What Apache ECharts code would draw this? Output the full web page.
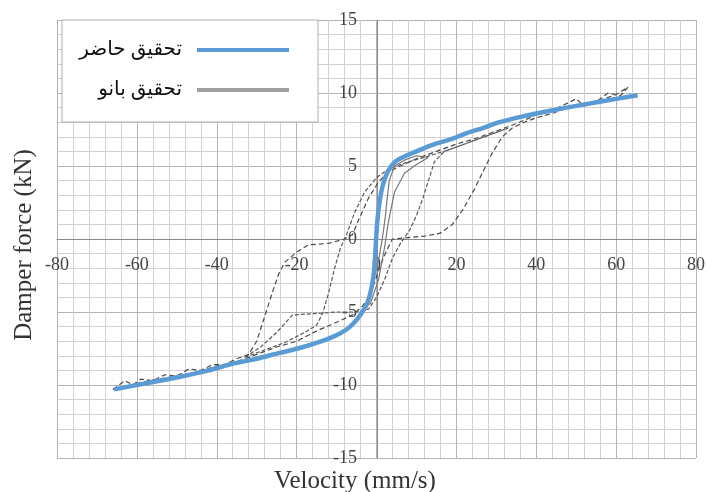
<!DOCTYPE html>
<html>
<head>
<meta charset="utf-8">
<script src="https://cdn.jsdelivr.net/npm/echarts@6/dist/echarts.min.js"></script>
<style>
  html, body { margin: 0; padding: 0; background: #fff; }
  #chart { width: 708px; height: 492px; }
</style>
</head>
<body>
<div id="chart"></div>
<script>
// series names (legend)
var namePresent = "تحقیق حاضر";
var nameBanu = "تحقیق بانو";

// present study: [velocity, force]
var present = [
  [-65.7, -10.3], [-57, -9.85], [-49.4, -9.45], [-42, -9.0], [-36.8, -8.6],
  [-30, -8.2], [-24.3, -7.8], [-19, -7.45], [-14.3, -7.05], [-10.5, -6.65],
  [-7.5, -6.2], [-5.5, -5.7], [-3.8, -5.1], [-2.3, -4.4], [-1.3, -3.4],
  [-0.6, -2.2], [-0.2, -0.5], [0.2, 1.2], [0.8, 2.6], [1.6, 3.7],
  [2.8, 4.6], [4.5, 5.25], [7, 5.65], [10, 6.0], [14, 6.45], [18.3, 6.8],
  [22.6, 7.25], [26.6, 7.6], [30.8, 8.0], [35, 8.3], [40, 8.6],
  [47.6, 9.0], [55.9, 9.4], [65.4, 9.85]
];

// Banu study, outer loop
var banuOuter = [
  [-66, -10.3], [-63, -9.7], [-61, -10.0], [-59, -9.6], [-56, -9.7], [-53, -9.3],
  [-50, -9.4], [-47, -8.9], [-44, -9.0], [-41, -8.6], [-38, -8.6], [-35, -8.2],
  [-32, -7.9], [-30, -7.0], [-28, -5.3], [-26, -3.6], [-24.5, -2.4], [-23, -1.6],
  [-20, -0.9], [-17, -0.4], [-12, -0.3], [-8, 0.0], [-6, 0.3], [-4.5, 1.3],
  [-2, 2.8], [0.5, 3.9], [3, 4.6], [6, 5.0], [10, 5.5], [15, 6.0], [20, 6.5],
  [25, 6.9], [30, 7.4], [35, 7.9], [40, 8.5], [44, 8.8], [47, 9.2], [50, 9.6],
  [52, 9.1], [55, 9.4], [58, 10.0], [61, 9.8], [63, 10.4],
  [60, 9.9], [56, 9.5], [52, 9.3], [48, 9.0], [44, 8.6], [40, 8.3], [37, 8.0],
  [34, 7.6], [31.5, 7.0], [29, 5.9], [27, 4.8], [24.5, 3.4], [21.6, 2.0],
  [19, 1.0], [16, 0.4], [12, 0.2], [8, 0.1], [4, 0.0], [2.5, -0.8], [1, -1.8],
  [-0.5, -3.0], [-2, -4.0], [-3.5, -4.6], [-6, -5.2], [-10, -5.7], [-15, -6.3],
  [-20, -7.0], [-25, -7.4], [-30, -7.9], [-35, -8.4], [-40, -8.7], [-45, -9.1],
  [-50, -9.4], [-55, -9.6], [-60, -9.9], [-66, -10.3]
];

// Banu study, middle loop
var banuMiddle = [
  [-33, -8.1], [-28, -7.6], [-23, -7.1], [-18, -6.4], [-15, -5.9], [-13.5, -5.1],
  [-12, -3.7], [-10.5, -2.0], [-9, -0.6], [-7.5, 0.3], [-5.5, 1.8], [-3, 3.2],
  [0, 4.2], [3, 4.8], [7, 5.2], [12, 5.6], [18, 6.1], [24, 6.7], [29, 7.2],
  [33, 7.6], [28, 7.1], [22, 6.5], [17, 6.0], [14.5, 5.3], [13, 4.0],
  [11.5, 2.7], [10, 1.6], [8.3, 0.6], [6, -0.3], [4, -1.3], [2, -2.8],
  [0, -4.0], [-2, -4.8], [-5, -5.0], [-10, -5.0], [-15, -5.1], [-21, -5.2],
  [-25, -6.4], [-29, -7.4], [-33, -8.1]
];

// Banu study, inner loop
var banuInner = [
  [-3, -4.7], [-1.5, -3.5], [0.5, -1.5], [1.5, 0.1], [2.2, 1.5], [2.6, 2.6],
  [3.2, 4.0], [4.5, 5.0], [7, 5.4], [10, 5.7], [13, 5.6], [10, 5.1],
  [7, 4.5], [4.5, 3.2], [3, 1.2], [2, -0.6], [0.5, -2.8], [-1.5, -4.4], [-3, -4.7]
];

var tickFont = { fontFamily: "Liberation Serif", fontSize: 18, color: "#444" };

var chart = echarts.init(document.getElementById("chart"));

function banuSeries(data, color, dash) {
  return {
    name: nameBanu,
    type: "line",
    data: data,
    symbol: "none",
    color: "#9a9a9a",
    lineStyle: { color: color, width: 1.2, type: dash },
    z: 2
  };
}

var option = {
  animation: false,
  grid: { left: 57, right: 12, top: 20, bottom: 34 },
  xAxis: {
    type: "value",
    min: -80,
    max: 80,
    interval: 20,
    position: "bottom",
    offset: -219,
    axisLine: { onZero: false, lineStyle: { color: "#8a8a8a", width: 1 } },
    axisTick: { show: false },
    axisLabel: Object.assign({ margin: 17 }, tickFont),
    splitLine: { show: true, lineStyle: { color: "#b4b4b4", width: 1 } },
    minorTick: { show: false, splitNumber: 5 },
    minorSplitLine: { show: true, lineStyle: { color: "#d2d2d2", width: 1 } }
  },
  yAxis: {
    type: "value",
    min: -15,
    max: 15,
    interval: 5,
    position: "left",
    offset: -320,
    axisLine: { show: true, onZero: false, lineStyle: { color: "#8a8a8a", width: 1 } },
    axisTick: { show: false },
    axisLabel: Object.assign({ margin: 20 }, tickFont),
    splitLine: { show: true, lineStyle: { color: "#b4b4b4", width: 1 } },
    minorTick: { show: false, splitNumber: 5 },
    minorSplitLine: { show: true, lineStyle: { color: "#d2d2d2", width: 1 } }
  },
  legend: {
    orient: "vertical",
    right: 414,
    top: 35,
    align: "right",
    icon: "rect",
    itemWidth: 92,
    itemHeight: 4,
    itemGap: 20,
    z: 10,
    textStyle: {
      fontFamily: "Liberation Serif, DejaVu Sans",
      fontSize: 20,
      color: "#111",
      padding: [0, 10, 0, 0]
    },
    data: [
      { name: namePresent, itemStyle: { color: "#5b9bd5" } },
      { name: nameBanu, itemStyle: { color: "#a0a0a0" } }
    ]
  },
  graphic: [
    {
      type: "rect",
      shape: { x: 62, y: 20, width: 256, height: 102 },
      style: { fill: "#fff", stroke: "#b0b0b0", lineWidth: 1 },
      z: 3
    },
    {
      type: "text",
      x: 355,
      y: 481,
      style: {
        text: "Velocity (mm/s)",
        fontFamily: "Liberation Serif",
        fontSize: 25,
        fill: "#333",
        align: "center",
        verticalAlign: "middle"
      }
    },
    {
      type: "text",
      x: 24,
      y: 245,
      rotation: Math.PI / 2,
      style: {
        text: "Damper force (kN)",
        fontFamily: "Liberation Serif",
        fontSize: 25,
        fill: "#333",
        align: "center",
        verticalAlign: "middle"
      }
    }
  ],
  series: [
    banuSeries(banuOuter, "#4a4a4a", [5, 3]),
    banuSeries(banuMiddle, "#5a5a5a", [4, 2]),
    banuSeries(banuInner, "#777", "solid"),
    {
      name: namePresent,
      type: "line",
      data: present,
      symbol: "none",
      smooth: 0.3,
      color: "#5b9bd5",
      lineStyle: { color: "#5b9bd5", width: 4.5 },
      z: 3
    }
  ]
};

chart.setOption(option);
</script>
</body>
</html>
